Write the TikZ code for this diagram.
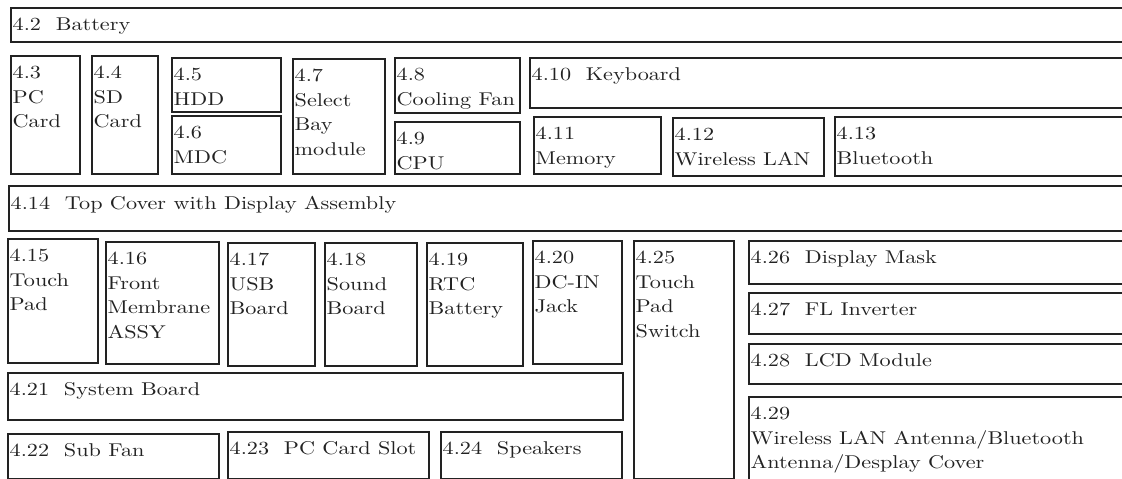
\documentclass[tikz,border=0pt]{standalone}
\usepackage{fontspec}
\setmainfont{lmroman10-regular.otf}[FakeStretch=1.2]
\usepackage{tikz}
\definecolor{ink}{RGB}{34,34,34}

\begin{document}
\begin{tikzpicture}[
    x=1pt, y=-1pt,
    box/.style={rectangle, draw=ink, line width=1.6pt, anchor=north west,
                inner sep=0pt},
    lbl/.style={anchor=north west, inner sep=0pt, align=left, text=ink,
                xshift=2.5pt, yshift=-10.6pt,
                font=\fontsize{18.5}{24.7}\selectfont}
  ]
    \useasboundingbox (0,0) rectangle (1122,479);
    \clip (0,0) rectangle (1122,479);

    % top row
    \node[box, minimum width=1120pt, minimum height=34pt] (bat) at (10,7) {};
    \node[lbl] (bat-t) at (bat.north west) {4.2\ \ Battery};

    \node[box, minimum width=69pt, minimum height=118pt] (pccard) at (10,55) {};
    \node[lbl] (pccard-t) at (pccard.north west) {4.3\\PC\\Card};
    \node[box, minimum width=66pt, minimum height=118pt] (sdcard) at (91,55) {};
    \node[lbl] (sdcard-t) at (sdcard.north west) {4.4\\SD\\Card};
    \node[box, minimum width=109pt, minimum height=54pt] (hdd) at (171,57) {};
    \node[lbl] (hdd-t) at (hdd.north west) {4.5\\HDD};
    \node[box, minimum width=109pt, minimum height=58pt] (mdc) at (171,115) {};
    \node[lbl] (mdc-t) at (mdc.north west) {4.6\\MDC};
    \node[box, minimum width=92pt, minimum height=115pt] (bay) at (292,58) {};
    \node[lbl] (bay-t) at (bay.north west) {4.7\\Select\\Bay\\module};
    \node[box, minimum width=125pt, minimum height=55pt] (fan) at (394,57) {};
    \node[lbl] (fan-t) at (fan.north west) {4.8\\Cooling Fan};
    \node[box, minimum width=125pt, minimum height=52pt] (cpu) at (394,121) {};
    \node[lbl] (cpu-t) at (cpu.north west) {4.9\\CPU};
    \node[box, minimum width=610pt, minimum height=50pt] (kbd) at (529,57) {};
    \node[lbl] (kbd-t) at (kbd.north west) {4.10\ \ Keyboard};
    \node[box, minimum width=127pt, minimum height=57pt] (mem) at (533,116) {};
    \node[lbl] (mem-t) at (mem.north west) {4.11\\Memory};
    \node[box, minimum width=151pt, minimum height=58pt] (wlan) at (672,117) {};
    \node[lbl] (wlan-t) at (wlan.north west) {4.12\\Wireless LAN};
    \node[box, minimum width=300pt, minimum height=59pt] (bt) at (834,116) {};
    \node[lbl] (bt-t) at (bt.north west) {4.13\\Bluetooth};

    % middle
    \node[box, minimum width=1130pt, minimum height=45pt] (topcov) at (8,185) {};
    \node[lbl] (topcov-t) at (topcov.north west) {4.14\ \ Top Cover with Display Assembly};

    \node[box, minimum width=90pt, minimum height=124pt] (tpad) at (7,238) {};
    \node[lbl] (tpad-t) at (tpad.north west) {4.15\\Touch\\Pad};
    \node[box, minimum width=113pt, minimum height=122pt] (memb) at (105,241) {};
    \node[lbl] (memb-t) at (memb.north west) {4.16\\Front\\Membrane\\ASSY};
    \node[box, minimum width=87pt, minimum height=123pt] (usb) at (227,242) {};
    \node[lbl] (usb-t) at (usb.north west) {4.17\\USB\\Board};
    \node[box, minimum width=92pt, minimum height=123pt] (snd) at (324,242) {};
    \node[lbl] (snd-t) at (snd.north west) {4.18\\Sound\\Board};
    \node[box, minimum width=96pt, minimum height=123pt] (rtc) at (426,242) {};
    \node[lbl] (rtc-t) at (rtc.north west) {4.19\\RTC\\Battery};
    \node[box, minimum width=89pt, minimum height=123pt] (dcin) at (532,240) {};
    \node[lbl] (dcin-t) at (dcin.north west) {4.20\\DC-IN\\Jack};
    \node[box, minimum width=100pt, minimum height=238pt] (tpsw) at (633,240) {};
    \node[lbl] (tpsw-t) at (tpsw.north west) {4.25\\Touch\\Pad\\Switch};

    % display side
    \node[box, minimum width=390pt, minimum height=43pt] (mask) at (748,240) {};
    \node[lbl] (mask-t) at (mask.north west) {4.26\ \ Display Mask};
    \node[box, minimum width=390pt, minimum height=41pt] (inv) at (748,292) {};
    \node[lbl] (inv-t) at (inv.north west) {4.27\ \ FL Inverter};
    \node[box, minimum width=390pt, minimum height=40pt] (lcd) at (748,343) {};
    \node[lbl] (lcd-t) at (lcd.north west) {4.28\ \ LCD Module};
    \node[box, minimum width=390pt, minimum height=100pt] (ant) at (748,396) {};
    \node[lbl] (ant-t) at (ant.north west) {4.29\\Wireless LAN Antenna/Bluetooth\\Antenna/Desplay Cover};

    % bottom
    \node[box, minimum width=615pt, minimum height=47pt] (sysb) at (7,372) {};
    \node[lbl] (sysb-t) at (sysb.north west) {4.21\ \ System Board};
    \node[box, minimum width=211pt, minimum height=45pt] (subfan) at (7,433) {};
    \node[lbl] (subfan-t) at (subfan.north west) {4.22\ \ Sub Fan};
    \node[box, minimum width=201pt, minimum height=47pt] (slot) at (227,431) {};
    \node[lbl] (slot-t) at (slot.north west) {4.23\ \ PC Card Slot};
    \node[box, minimum width=181pt, minimum height=47pt] (spk) at (440,431) {};
    \node[lbl] (spk-t) at (spk.north west) {4.24\ \ Speakers};
  \end{tikzpicture}
\end{document}
